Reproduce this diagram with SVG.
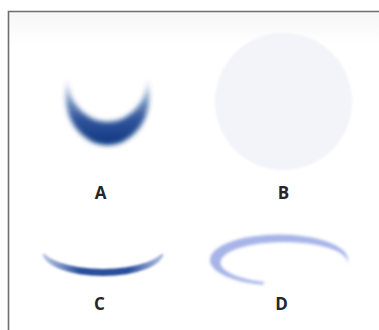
<svg xmlns="http://www.w3.org/2000/svg" width="379" height="330" viewBox="0 0 379 330">
  <style>
    .label { font-family: "Open Sans", "Liberation Sans", sans-serif; font-weight: 700; font-size: 17px; fill: #262626; text-anchor: middle; }
    .frame { fill: none; stroke: #6e6e6e; stroke-width: 1.6; }
  </style>
  <defs>
    <filter id="softA" x="-20%" y="-20%" width="140%" height="140%">
      <feGaussianBlur stdDeviation="2.6"/>
    </filter>
    <filter id="softC" x="-20%" y="-50%" width="140%" height="200%">
      <feGaussianBlur stdDeviation="1.3"/>
    </filter>
    <filter id="softD" x="-20%" y="-50%" width="140%" height="200%">
      <feGaussianBlur stdDeviation="1.5"/>
    </filter>
    <filter id="softB" x="-10%" y="-10%" width="120%" height="120%">
      <feGaussianBlur stdDeviation="1.2"/>
    </filter>
    <linearGradient id="gradA" x1="0" y1="74" x2="0" y2="146" gradientUnits="userSpaceOnUse">
      <stop offset="0" stop-color="#0a3a8c" stop-opacity="0.05"/>
      <stop offset="0.25" stop-color="#0a3a8c" stop-opacity="0.35"/>
      <stop offset="0.6" stop-color="#0a3a8c" stop-opacity="0.85"/>
      <stop offset="1" stop-color="#06347f" stop-opacity="1"/>
    </linearGradient>
    <linearGradient id="gradC" x1="43" y1="0" x2="165" y2="0" gradientUnits="userSpaceOnUse">
      <stop offset="0" stop-color="#2a4fa8" stop-opacity="0.3"/>
      <stop offset="0.3" stop-color="#1d4496" stop-opacity="0.95"/>
      <stop offset="0.7" stop-color="#1d4496" stop-opacity="0.95"/>
      <stop offset="1" stop-color="#2a4fa8" stop-opacity="0.3"/>
    </linearGradient>
    <linearGradient id="bandTop" x1="0" y1="12" x2="0" y2="44" gradientUnits="userSpaceOnUse">
      <stop offset="0" stop-color="#f6f6f6"/>
      <stop offset="1" stop-color="#ffffff"/>
    </linearGradient>
    <mask id="maskA">
      <ellipse cx="107.5" cy="95" rx="42" ry="50" fill="#fff"/>
      <ellipse cx="107.5" cy="78" rx="40" ry="44" fill="#000"/>
    </mask>
    <mask id="maskC">
      <ellipse cx="103" cy="252" rx="61" ry="24" fill="#fff"/>
      <ellipse cx="103" cy="246" rx="62" ry="23" fill="#000"/>
      <rect x="30" y="230" width="150" height="24" fill="#000"/>
    </mask>
    <mask id="maskD">
      <ellipse cx="279" cy="260" rx="69" ry="25.5" fill="#fff"/>
      <ellipse cx="284" cy="262.5" rx="63.5" ry="20.5" fill="#000"/>
      <path d="M279 262 L350 268 L350 300 L252 300 Z" fill="#000"/>
    </mask>
  </defs>

  <rect width="379" height="330" fill="#ffffff"/>
  <rect x="9" y="12" width="370" height="32" fill="url(#bandTop)"/>

  <!-- outer frame: top and left edges -->
  <path class="frame" d="M8.5 330 V11.5 H379"/>

  <!-- A: dark crescent -->
  <g id="node-a">
    <g filter="url(#softA)">
      <rect x="55" y="70" width="105" height="85" fill="url(#gradA)" mask="url(#maskA)"/>
    </g>
    <text class="label" x="100.5" y="199">A</text>
  </g>

  <!-- B: faint disc -->
  <g id="node-b">
    <circle cx="283.5" cy="101.5" r="68.5" fill="#f3f3fa" filter="url(#softB)"/>
    <text class="label" x="283.5" y="199">B</text>
  </g>

  <!-- C: thin lower arc -->
  <g id="node-c">
    <g filter="url(#softC)">
      <rect x="38" y="248" width="132" height="34" fill="url(#gradC)" mask="url(#maskC)"/>
    </g>
    <text class="label" x="99.5" y="310">C</text>
  </g>

  <!-- D: open elliptical ring -->
  <g id="node-d">
    <g filter="url(#softD)">
      <rect x="205" y="230" width="150" height="60" fill="#8294de" fill-opacity="0.7" mask="url(#maskD)"/>
    </g>
    <text class="label" x="281.5" y="310">D</text>
  </g>
</svg>
